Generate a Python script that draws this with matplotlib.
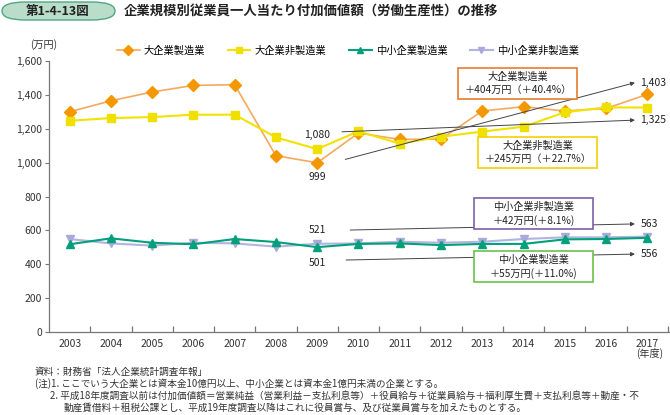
import matplotlib
matplotlib.use("Agg")
import matplotlib.pyplot as plt
from matplotlib.patches import FancyBboxPatch, Rectangle
from matplotlib.lines import Line2D
from matplotlib.ticker import FuncFormatter, FixedLocator

plt.rcParams['font.family'] = ['Noto Sans CJK JP', 'DejaVu Sans']

years = list(range(2003, 2018))
large_mfg = [1300, 1365, 1417, 1456, 1460, 1041, 999, 1175, 1137, 1139, 1305, 1330, 1305, 1320, 1403]
large_nonmfg = [1247, 1263, 1269, 1283, 1283, 1149, 1080, 1185, 1112, 1153, 1183, 1212, 1297, 1326, 1325]
small_mfg = [518, 553, 527, 518, 549, 531, 501, 520, 523, 513, 520, 520, 547, 549, 556]
small_nonmfg = [549, 523, 510, 527, 523, 504, 521, 523, 533, 527, 533, 549, 559, 559, 563]

series_names = ['大企業製造業', '大企業非製造業', '中小企業製造業', '中小企業非製造業']

# trend arrows (start x, start y, end x, end y) and end labels
arrow_start_x = [2009.68, 2009.6, 2009.7, 2009.8]
arrow_start_y = [1019, 1182, 425, 602]
arrow_end_x = [2016.7, 2016.7, 2016.7, 2016.7]
arrow_end_y = [1472, 1251, 460, 638]
arrow_labels = ['1,403', '1,325', '556', '563']

box_texts = ['大企業製造業\n＋404万円（＋40.4%）',
             '大企業非製造業\n＋245万円（＋22.7%）',
             '中小企業製造業\n＋55万円(＋11.0%)',
             '中小企業非製造業\n＋42万円(＋8.1%)']
box_cx = [2013.86, 2014.34, 2014.25, 2014.25]
box_cy = [1470, 1060, 387, 700]

val_labels = ['1,080', '999', '521', '501']
val_y = [1163, 915, 602, 407]

fig = plt.figure(figsize=(6.7, 4.15), dpi=100)
ax = fig.add_axes([49/670, 83/415, 621/670, 271/415])

c_orange_line = '#f5a95e'
c_orange_mk = '#f39800'
c_yellow_line = '#f2e200'
c_yellow_mk = '#f0e000'
c_teal = '#00a07a'
c_lav_line = '#b3b3e0'
c_lav_mk = '#a9a9da'

ax.plot(years, large_mfg, color=c_orange_line, lw=1.2, marker='D', ms=6,
        mfc=c_orange_mk, mec=c_orange_mk, label=series_names[0], zorder=3)
ax.plot(years, large_nonmfg, color=c_yellow_line, lw=1.5, marker='s', ms=6,
        mfc=c_yellow_mk, mec=c_yellow_mk, label=series_names[1], zorder=3)
ax.plot(years, small_nonmfg, color=c_lav_line, lw=1.5, marker='v', ms=6,
        mfc=c_lav_mk, mec=c_lav_mk, label=series_names[3], zorder=3)
ax.plot(years, small_mfg, color=c_teal, lw=1.5, marker='^', ms=6,
        mfc=c_teal, mec=c_teal, label=series_names[2], zorder=3)

ax.set_xlim(2002.5, 2017.55)
ax.set_ylim(0, 1600)

for s in ['top', 'right']:
    ax.spines[s].set_visible(False)
for s in ['left', 'bottom']:
    ax.spines[s].set_color('#777777')
    ax.spines[s].set_linewidth(0.9)

ax.set_yticks(range(0, 1601, 200))
ax.yaxis.set_major_formatter(FuncFormatter(lambda v, p: f'{int(v):,}'))
ax.tick_params(axis='y', direction='out', length=3, color='#777777', labelsize=7.5,
               labelcolor='#333333', pad=2)
ax.set_xticks(years)
ax.set_xticklabels([str(y) for y in years])
ax.tick_params(axis='x', which='major', length=0, labelsize=7.5, labelcolor='#333333', pad=5)
ax.xaxis.set_minor_locator(FixedLocator([y + 0.5 for y in years]))
ax.tick_params(axis='x', which='minor', direction='in', length=4, color='#777777', width=0.9)

# arrows
for sx, sy, ex, ey, lab in zip(arrow_start_x, arrow_start_y, arrow_end_x, arrow_end_y, arrow_labels):
    ax.annotate('', xy=(ex, ey), xytext=(sx, sy),
                arrowprops=dict(arrowstyle='-|>', color='#444444', lw=0.7,
                                mutation_scale=6, shrinkA=0, shrinkB=0), zorder=4)
    ax.text(ex + 0.13, ey, lab, fontsize=7.5, color='#222222', va='center', ha='left',
            zorder=6, clip_on=False)

# boxes
box_colors = ['#e87b30', '#f5d000', '#6cc04a', '#7e5fa8']
bw, bh = 2.88, 183
for txt, cx, cy, col in zip(box_texts, box_cx, box_cy, box_colors):
    r = Rectangle((cx - bw/2, cy - bh/2), bw, bh, facecolor='white', edgecolor=col,
                  lw=1.2, zorder=5, clip_on=False)
    ax.add_patch(r)
    ax.text(cx, cy, txt, ha='center', va='center', fontsize=7.3, color='#222222',
            linespacing=1.35, zorder=6)

for lab, vy in zip(val_labels, val_y):
    ax.text(2009.0, vy, lab, ha='center', va='center', fontsize=7.5, color='#222222', zorder=6)

# legend
handles = [
    Line2D([], [], color=c_orange_line, lw=1.2, marker='D', ms=5, mfc=c_orange_mk, mec=c_orange_mk),
    Line2D([], [], color=c_yellow_line, lw=1.5, marker='s', ms=5, mfc=c_yellow_mk, mec=c_yellow_mk),
    Line2D([], [], color=c_teal, lw=1.5, marker='^', ms=5, mfc=c_teal, mec=c_teal),
    Line2D([], [], color=c_lav_line, lw=1.5, marker='v', ms=5, mfc=c_lav_mk, mec=c_lav_mk),
]
fig.legend(handles, series_names, loc='center left', bbox_to_anchor=(117/670, 1 - 50.5/415),
           ncol=4, frameon=False, fontsize=7.4, handlelength=2.2, handletextpad=0.4,
           columnspacing=2.2, borderaxespad=0, borderpad=0)

fig.text(30/670, 1 - 45/415, '(万円)', fontsize=7.3, color='#333333', va='center', ha='left')
fig.text(650/670, 1 - 353/415, '(年度)', fontsize=7.3, color='#333333', va='center', ha='center')

# title
tb = FancyBboxPatch((2/670, 1 - 20/415), 113/670, 18/415,
                    boxstyle='round,pad=0,rounding_size=0.035', transform=fig.transFigure,
                    facecolor='#b9ddc9', edgecolor='#4fa882', lw=1.0, mutation_aspect=415/670)
fig.patches.append(tb)
fig.text(58/670, 1 - 11/415, '第1-4-13図', fontsize=9, fontweight='bold', color='#222222',
         va='center', ha='center')
fig.text(124/670, 1 - 11/415, '企業規模別従業員一人当たり付加価値額（労働生産性）の推移',
         fontsize=9.6, fontweight='bold', color='#222222', va='center', ha='left')

notes = [
    (35, 372, '資料：財務省「法人企業統計調査年報」'),
    (35, 384, '(注)1. ここでいう大企業とは資本金10億円以上、中小企業とは資本金1億円未満の企業とする。'),
    (50, 396, '2. 平成18年度調査以前は付加価値額＝営業純益（営業利益－支払利息等）＋役員給与＋従業員給与＋福利厚生費＋支払利息等＋動産・不'),
    (64, 408, '動産賃借料＋租税公課とし、平成19年度調査以降はこれに役員賞与、及び従業員賞与を加えたものとする。'),
]
for x, y, t in notes:
    fig.text(x/670, 1 - y/415, t, fontsize=6.95, color='#333333', va='center', ha='left')

fig.savefig('out.png', dpi=100)
